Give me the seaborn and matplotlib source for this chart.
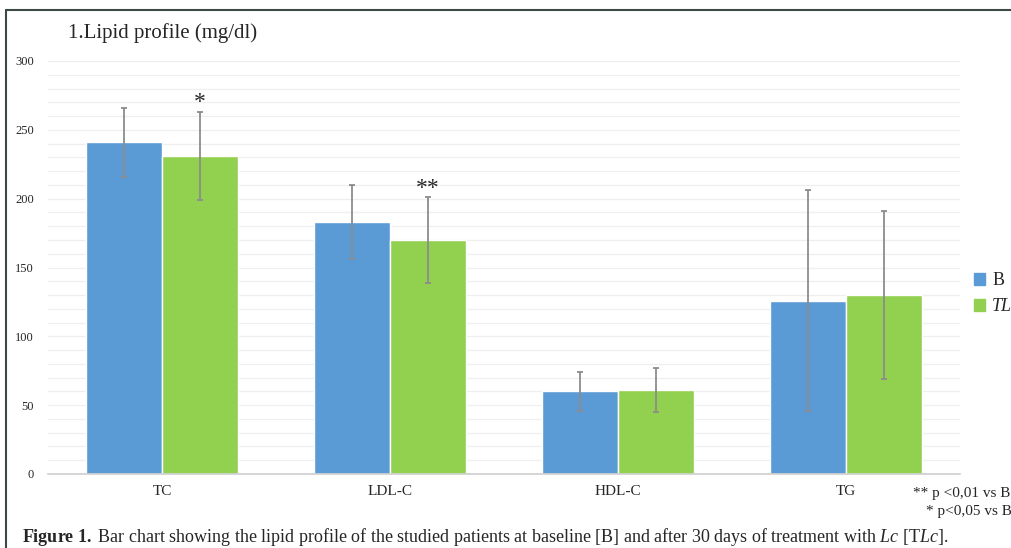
import numpy as np
import pandas as pd
import matplotlib.pyplot as plt
import matplotlib.lines as mlines
import seaborn as sns

# data
categories = ['TC', 'LDL-C', 'HDL-C', 'TG']
groups = ['B', 'TLc']
b_mean = [241, 183, 60, 126]
b_err = [25, 27, 14, 80]
tlc_mean = [231, 170, 61, 130]
tlc_err = [32, 31, 16, 61]
stars = {'TC': '*', 'LDL-C': '**'}

df = pd.DataFrame({
    'cat': categories * 2,
    'group': ['B'] * 4 + ['TLc'] * 4,
    'value': b_mean + tlc_mean,
    'err': b_err + tlc_err,
})

sns.set_theme(style='white')
plt.rcParams['font.family'] = ['Liberation Serif', 'DejaVu Serif']
plt.rcParams['mathtext.fontset'] = 'custom'
plt.rcParams['mathtext.rm'] = 'Liberation Serif'
plt.rcParams['mathtext.it'] = 'Liberation Serif:italic'
plt.rcParams['mathtext.bf'] = 'Liberation Serif:bold'

fig = plt.figure(figsize=(10.12, 5.48), dpi=100)
ax = fig.add_axes([48 / 1012, 1 - 474 / 548, 912 / 1012, 413 / 548])

palette = {'B': '#5B9BD5', 'TLc': '#92D050'}
sns.barplot(data=df, x='cat', y='value', hue='group', hue_order=groups,
            palette=palette, width=0.667, gap=0, errorbar=None,
            saturation=1, ax=ax, legend=False)

# error bars from patch centres
for g, patches in zip(groups, ax.containers):
    sub = df[df['group'] == g]
    xs = [p.get_x() + p.get_width() / 2 for p in patches]
    ax.errorbar(xs, sub['value'], yerr=sub['err'], fmt='none',
                ecolor='#8c8c8c', elinewidth=1.3, capsize=2.5, capthick=1.3)
    if g == 'TLc':
        for x, (c, v, e) in zip(xs, zip(sub['cat'], sub['value'], sub['err'])):
            if c in stars:
                ax.text(x, v + e - 1, stars[c], ha='center', va='bottom',
                        fontsize=17)

ax.set_ylim(0, 300)
ax.set_xlim(-0.5, 3.5)
ax.set_yticks(range(0, 301, 50))
ax.set_yticks(range(0, 301, 10), minor=True)
ax.grid(axis='y', which='both', color='#efefef', linewidth=0.9)
ax.set_axisbelow(True)
for s in ['top', 'right', 'left']:
    ax.spines[s].set_visible(False)
ax.spines['bottom'].set_color('#d0d0d0')
ax.tick_params(axis='y', which='both', length=0, labelsize=9, pad=10)
ax.tick_params(axis='x', length=0, labelsize=11, pad=8)
ax.set_xlabel('')
ax.set_ylabel('')

# legend
handles = [plt.Rectangle((0, 0), 1, 1, color=palette[g]) for g in groups]
leg = fig.legend(handles, ['B', 'TLc'], loc='upper left',
                 bbox_to_anchor=(958 / 1012, 1 - 256 / 548), frameon=False,
                 fontsize=13, handlelength=0.6, handleheight=0.6,
                 handletextpad=0.4, labelspacing=0.5)
leg.get_texts()[1].set_fontstyle('italic')

fig.text(68 / 1012, 1 - 33 / 548, '1.Lipid profile (mg/dl)', fontsize=15,
         va='center', ha='left')

fig.text(913 / 1012, 1 - 493 / 548, '** p <0,01 vs B', fontsize=11,
         va='center', ha='left')
fig.text(926 / 1012, 1 - 511 / 548, '* p<0,05 vs B', fontsize=11,
         va='center', ha='left')

caption = (r'$\mathbf{Figure\ 1.}$ Bar chart showing the lipid profile of the '
           r'studied patients at baseline [B] and after 30 days of treatment '
           r'with $\mathit{Lc}$ [T$\mathit{Lc}$].')
fig.text(22 / 1012, 1 - 537 / 548, caption, fontsize=13.0,
         va='center', ha='left')

# frame lines at top-left
fig.add_artist(mlines.Line2D([6 / 1012, 6 / 1012], [0, 1 - 10 / 548],
                             color='#3a4a44', linewidth=1.5))
fig.add_artist(mlines.Line2D([6 / 1012, 1], [1 - 10 / 548, 1 - 10 / 548],
                             color='#3a4a44', linewidth=1.5))

fig.savefig('out.png', dpi=100)
